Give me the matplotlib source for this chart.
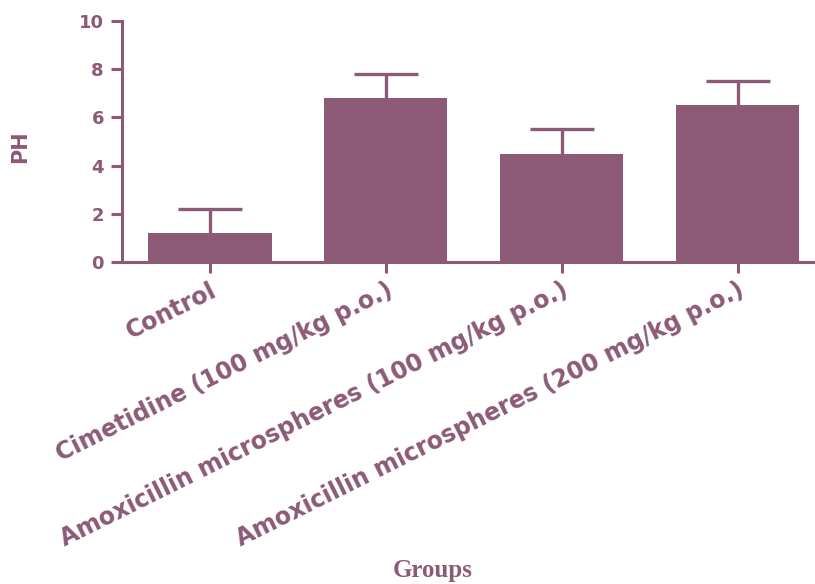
import matplotlib
matplotlib.use("Agg")
import matplotlib.pyplot as plt

categories = ["Control", "Cimetidine (100 mg/kg p.o.)",
              "Amoxicillin microspheres (100 mg/kg p.o.)",
              "Amoxicillin microspheres (200 mg/kg p.o.)"]
ph_values = [1.2, 6.8, 4.5, 6.5]
ph_errors = [1.0, 1.0, 1.0, 1.0]
y_ticks = [0, 2, 4, 6, 8, 10]

color = "#8C5A76"

fig = plt.figure(figsize=(8.15, 5.84), dpi=100)
ax = fig.add_axes([0.1497, 0.5514, 0.8503, 0.4127])

x = list(range(len(categories)))
ax.bar(x, ph_values, width=0.70, color=color, zorder=2)
eb = ax.errorbar(x, ph_values, yerr=[[0] * len(ph_errors), ph_errors], fmt="none",
                 ecolor=color, elinewidth=2.4, capsize=23, capthick=2.4, zorder=3)
# hide the lower caps (at the bar tops)
if len(eb[1]) == 2:
    eb[1][0].set_visible(False)

ax.set_xlim(-0.5, 3.44)
ax.set_ylim(0, 10)
ax.set_yticks(y_ticks)
ax.set_xticks(x)

for side in ("top", "right"):
    ax.spines[side].set_visible(False)
for side in ("left", "bottom"):
    ax.spines[side].set_color(color)
    ax.spines[side].set_linewidth(2.2)

ax.tick_params(axis="both", colors=color, width=2.2, length=8, direction="out")
ax.tick_params(axis="y", pad=5)
for lbl in ax.get_yticklabels():
    lbl.set_fontsize(13)
    lbl.set_fontweight("bold")
    lbl.set_color(color)

ax.set_xticklabels(categories, rotation=26.5, ha="right", va="top",
                   rotation_mode="anchor", fontsize=17, fontweight="bold",
                   color=color)

ax.set_ylabel("PH", fontsize=15, fontweight="bold", color=color)
ax.yaxis.set_label_coords(-0.133, 0.48)

fig.text(0.531, 0.003, "Groups", ha="center", va="bottom", fontsize=18,
         fontweight="bold", family="Liberation Serif", color=color)

fig.savefig("out.png", dpi=100)
